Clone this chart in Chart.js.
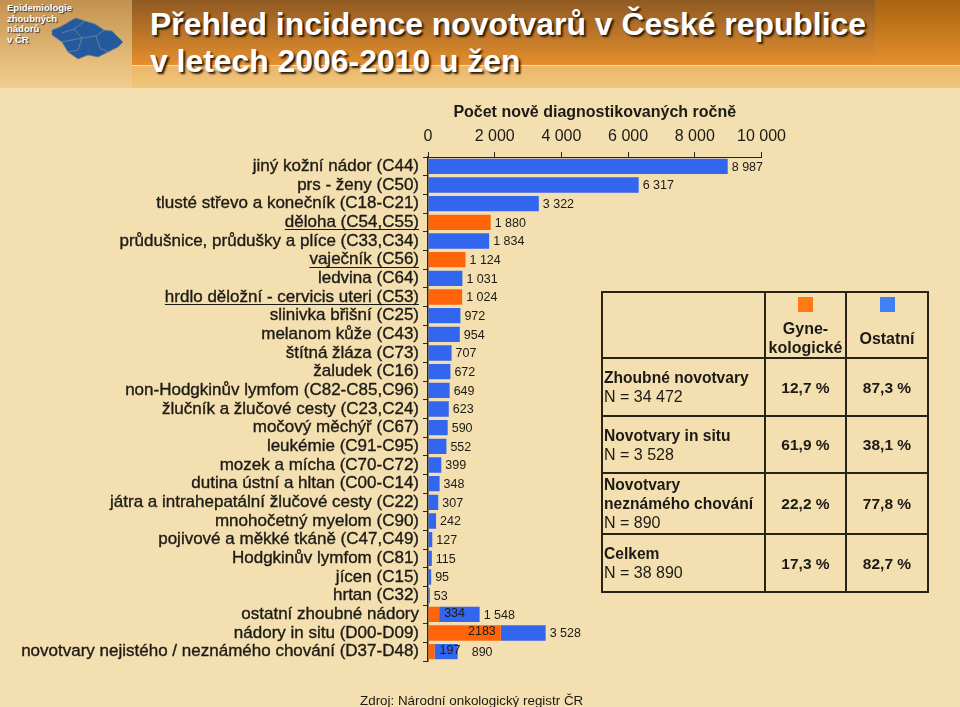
<!DOCTYPE html>
<html lang="cs">
<head>
<meta charset="utf-8">
<title>Přehled incidence novotvarů</title>
<script src="https://cdn.jsdelivr.net/npm/chart.js@4/dist/chart.umd.min.js"></script>
<style>
html, body { margin: 0; padding: 0; background: #f3dfb0; width: 960px; height: 707px; overflow: hidden; font-family: "Liberation Sans", Arial, sans-serif; color: #1c1a14; }
#band { position: absolute; left: 0; top: 0; width: 960px; height: 65px; background: linear-gradient(#a9640f, #e58f2e); }
#band2 { position: absolute; left: 0; top: 65px; width: 960px; height: 23px; border-top: 1px solid #fae0ae; box-sizing: border-box; background: linear-gradient(#ebb668, #f0c77f); }
#shade { position: absolute; left: 132px; top: 0; width: 743px; height: 65px; background: linear-gradient(#8f5a22, #e58f2e); }
#logo { position: absolute; left: 0; top: 0; width: 132px; height: 88px; background: linear-gradient(#c2914f, #e6bd7c 70%, #f0cd8e); }
#logotext { position: absolute; left: 7px; top: 3px; font: bold 9.5px/10.6px "Liberation Sans", sans-serif; color: #fff; text-shadow: 1px 1px 1px #333; }
#map { position: absolute; left: 0; top: 0; }
h1 { position: absolute; left: 150px; top: 6px; margin: 0; font: bold 31.9px/37px "Liberation Sans", sans-serif; color: #fff; text-shadow: 2px 2px 2px #2a1a08; white-space: nowrap; }
canvas { position: absolute; left: 0; top: 0; }
#info { position: absolute; left: 601px; top: 291px; border-collapse: collapse; table-layout: fixed; width: 326px; height: 300px; font-size: 16px; line-height: 19px; }
#info td { border: 2px solid #2a2418; padding: 0 0 0 1px; }
#info b { font-size: 15.6px; }
#info td.num { text-align: center; font-weight: bold; font-size: 15.5px; padding: 0; }
#info td.head { text-align: center; font-weight: bold; font-size: 16px; padding: 0; vertical-align: top; }
.sw { display: block; width: 15px; height: 15px; margin: 4px auto 7px; }
#source { position: absolute; left: 360px; top: 693px; font-size: 13.4px; white-space: nowrap; }
</style>
</head>
<body>
<div id="band"></div>
<div id="shade"></div>
<div id="band2"></div>
<div id="logo"></div>
<svg id="map" width="132" height="88">
  <path d="M52 30 L60 27 L72 20 L76 18 L85 21 L95 24 L104 30 L112 31 L118 37 L123 42 L118 47 L108 52 L98 57 L88 55 L78 59 L68 52 L62 42 L52 35 Z" fill="#245a9c" stroke="#6d7f96" stroke-width="0.7"/>
  <path d="M62 33 L74 29 L85 21 M74 29 L82 38 L96 36 L104 30 M82 38 L78 50 L68 52 M96 36 L100 48 L108 52 M82 38 L62 42" fill="none" stroke="#7d8ea6" stroke-width="0.7"/>
</svg>
<div id="logotext">Epidemiologie<br>zhoubných<br>nádorů<br>v ČR</div>
<h1>Přehled incidence novotvarů v České republice<br>v letech 2006-2010 u žen</h1>
<canvas id="chart" width="960" height="707"></canvas>
<table id="info">
  <colgroup><col style="width:163px"><col style="width:81px"><col style="width:82px"></colgroup>
  <tr style="height:65px"><td></td><td class="head"><span class="sw" style="background:#ff7a12"></span>Gyne-<br>kologické</td><td class="head"><span class="sw" style="background:#3f80f5"></span><span style="display:block;margin-top:17px">Ostatní</span></td></tr>
  <tr style="height:58px"><td><b>Zhoubné novotvary</b><br>N = 34 472</td><td class="num">12,7 %</td><td class="num">87,3 %</td></tr>
  <tr style="height:57px"><td><b>Novotvary in situ</b><br>N = 3 528</td><td class="num">61,9 %</td><td class="num">38,1 %</td></tr>
  <tr style="height:61px"><td><b>Novotvary<br>neznámého chování</b><br>N = 890</td><td class="num">22,2 %</td><td class="num">77,8 %</td></tr>
  <tr style="height:58px"><td><b>Celkem</b><br>N = 38 890</td><td class="num">17,3 %</td><td class="num">82,7 %</td></tr>
</table>
<div id="source">Zdroj: Národní onkologický registr ČR</div>
<script>
const categories = [
    'jiný kožní nádor (C44)', 'prs - ženy (C50)', 'tlusté střevo a konečník (C18-C21)', 'děloha (C54,C55)',
    'průdušnice, průdušky a plíce (C33,C34)', 'vaječník (C56)', 'ledvina (C64)', 'hrdlo děložní - cervicis uteri (C53)',
    'slinivka břišní (C25)', 'melanom kůže (C43)', 'štítná žláza (C73)', 'žaludek (C16)',
    'non-Hodgkinův lymfom (C82-C85,C96)', 'žlučník a žlučové cesty (C23,C24)', 'močový měchýř (C67)', 'leukémie (C91-C95)',
    'mozek a mícha (C70-C72)', 'dutina ústní a hltan (C00-C14)', 'játra a intrahepatální žlučové cesty (C22)', 'mnohočetný myelom (C90)',
    'pojivové a měkké tkáně (C47,C49)', 'Hodgkinův lymfom (C81)', 'jícen (C15)', 'hrtan (C32)',
    'ostatní zhoubné nádory', 'nádory in situ (D00-D09)', 'novotvary nejistého / neznámého chování (D37-D48)'
];
const gynecological = [0, 0, 0, 1880, 0, 1124, 0, 1024, 0, 0, 0, 0, 0, 0, 0, 0, 0, 0, 0, 0, 0, 0, 0, 0, 334, 2183, 197];
const other = [8987, 6317, 3322, 0, 1834, 0, 1031, 0, 972, 954, 707, 672, 649, 623, 590, 552, 399, 348, 307, 242, 127, 115, 95, 53, 1214, 1345, 693];
const underlinedCategories = ['děloha (C54,C55)', 'vaječník (C56)', 'hrdlo děložní - cervicis uteri (C53)'];
const xTicks = [0, 2000, 4000, 6000, 8000, 10000];

const tickFont = { family: '"Liberation Sans", sans-serif', size: 17 };
const darkText = '#1c1a14';

function spaced(n) {
    return String(n).replace(/\B(?=(\d{3})+$)/g, ' ');
}

// value labels next to the bars, plus the small ones inside the last three
const barLabels = {
    id: 'barLabels',
    afterDatasetsDraw(chart) {
        const ctx = chart.ctx;
        const x = chart.scales.x;
        const y = chart.scales.y;
        ctx.save();
        ctx.font = '12.5px "Liberation Sans", sans-serif';
        ctx.textBaseline = 'middle';
        ctx.fillStyle = darkText;
        categories.forEach((name, i) => {
            const total = gynecological[i] + other[i];
            const gap = i === categories.length - 1 ? 14 : 4;
            ctx.textAlign = 'left';
            ctx.fillText(spaced(total), x.getPixelForValue(total) + gap, y.getPixelForValue(i) + 1);
            if (i < 24) return;
            const orangeEnd = x.getPixelForValue(gynecological[i]);
            if (i === 25) {
                ctx.textAlign = 'right';
                ctx.fillText(String(gynecological[i]), orangeEnd - 5, y.getPixelForValue(i) - 1);
            } else {
                ctx.fillText(String(gynecological[i]), orangeEnd + 5, y.getPixelForValue(i) - 1);
            }
        });
        ctx.restore();
    }
};

// Chart.js has no underlined ticks, so the gynecological rows get a line drawn under them
const underlines = {
    id: 'underlines',
    afterDraw(chart) {
        const ctx = chart.ctx;
        const y = chart.scales.y;
        ctx.save();
        ctx.font = '17px "Liberation Sans", sans-serif';
        ctx.strokeStyle = darkText;
        ctx.lineWidth = 1;
        categories.forEach((name, i) => {
            if (!underlinedCategories.includes(name)) return;
            const right = 419;
            const w = ctx.measureText(name).width;
            const py = Math.round(y.getPixelForValue(i)) + 7.5;
            ctx.beginPath();
            ctx.moveTo(right - w, py);
            ctx.lineTo(right, py);
            ctx.stroke();
        });
        ctx.restore();
    }
};

new Chart(document.getElementById('chart'), {
    type: 'bar',
    data: {
        labels: categories,
        datasets: [
            { label: 'Gynekologické', data: gynecological, backgroundColor: '#ff6408', stack: 'a' },
            { label: 'Ostatní', data: other, backgroundColor: '#3366ee', stack: 'a' }
        ]
    },
    options: {
        indexAxis: 'y',
        responsive: false,
        animation: false,
        layout: { padding: { left: 0, right: 198.5, top: 103, bottom: 46 } },
        barPercentage: 0.82,
        categoryPercentage: 1,
        scales: {
            x: {
                position: 'top',
                stacked: true,
                min: 0,
                max: 10000,
                afterBuildTicks(scale) {
                    scale.ticks = xTicks.map(v => ({ value: v }));
                },
                afterFit(scale) {
                    scale.height = 54;
                },
                title: {
                    display: true,
                    text: 'Počet nově diagnostikovaných ročně',
                    color: darkText,
                    font: { family: tickFont.family, size: 16, weight: 'bold' },
                    padding: { top: 0, bottom: 4 }
                },
                ticks: {
                    color: darkText,
                    font: { family: tickFont.family, size: 16 },
                    maxRotation: 0,
                    autoSkip: false,
                    padding: 6,
                    callback: v => spaced(v)
                },
                grid: { drawOnChartArea: false, tickLength: 5, color: '#2a2418' },
                border: { color: '#2a2418', width: 1 }
            },
            y: {
                stacked: true,
                afterFit(scale) {
                    scale.width = 428;
                },
                ticks: {
                    color: darkText,
                    font: tickFont,
                    textStrokeColor: darkText,
                    textStrokeWidth: 0.35,
                    autoSkip: false,
                    padding: 4
                },
                grid: { drawOnChartArea: false, tickLength: 5, color: '#2a2418' },
                border: { color: '#2a2418', width: 1.5 }
            }
        },
        plugins: {
            legend: { display: false },
            tooltip: { enabled: false }
        }
    },
    plugins: [barLabels, underlines]
});
</script>
</body>
</html>
